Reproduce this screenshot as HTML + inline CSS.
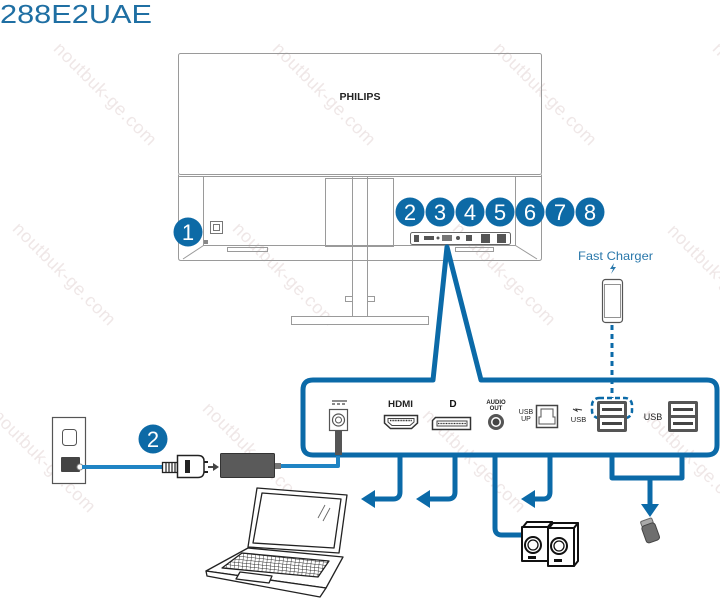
<!DOCTYPE html>
<html><head><meta charset="utf-8"><style>
html,body{margin:0;padding:0;background:#fff;}
svg{display:block;}
text{font-family:"Liberation Sans",sans-serif;}
</style></head><body>
<svg width="720" height="598" viewBox="0 0 720 598" xmlns="http://www.w3.org/2000/svg">
<defs>
<pattern id="kb" width="4" height="3.2" patternUnits="userSpaceOnUse" patternTransform="rotate(6)">
<rect width="4" height="3.2" fill="#fff"/><path d="M0 0H4M0 0V3.2" stroke="#222" stroke-width="0.9"/></pattern>
</defs>

<!-- watermarks -->
<g fill="#efe7e7" font-size="18" font-family="Liberation Sans,sans-serif">
<text transform="translate(101,98) rotate(45)" text-anchor="middle" textLength="137">noutbuk-ge.com</text>
<text transform="translate(320,98) rotate(45)" text-anchor="middle" textLength="137">noutbuk-ge.com</text>
<text transform="translate(541,98) rotate(45)" text-anchor="middle" textLength="137">noutbuk-ge.com</text>
<text transform="translate(760,98) rotate(45)" text-anchor="middle" textLength="137">noutbuk-ge.com</text>
<text transform="translate(60,278) rotate(45)" text-anchor="middle" textLength="137">noutbuk-ge.com</text>
<text transform="translate(280,278) rotate(45)" text-anchor="middle" textLength="137">noutbuk-ge.com</text>
<text transform="translate(500,278) rotate(45)" text-anchor="middle" textLength="137">noutbuk-ge.com</text>
<text transform="translate(715,280) rotate(45)" text-anchor="middle" textLength="137">noutbuk-ge.com</text>
<text transform="translate(40,465) rotate(45)" text-anchor="middle" textLength="137">noutbuk-ge.com</text>
<text transform="translate(250,458) rotate(45)" text-anchor="middle" textLength="137">noutbuk-ge.com</text>
<text transform="translate(470,465) rotate(45)" text-anchor="middle" textLength="137">noutbuk-ge.com</text>
<text transform="translate(690,465) rotate(45)" text-anchor="middle" textLength="137">noutbuk-ge.com</text>
</g>

<!-- title -->
<text x="0" y="23" font-size="26" fill="#1f6fa3" textLength="152" lengthAdjust="spacingAndGlyphs">288E2UAE</text>

<!-- monitor -->
<g fill="none" stroke="#9a9a9a" stroke-width="1">
<rect x="178.5" y="53.5" width="363" height="121" rx="2"/>
<path d="M178.5 174.5 V258 Q178.5 260.5 181 260.5 H539 Q541.5 260.5 541.5 258 V174.5"/>
<path d="M178.5 176.5 H541.5"/>
<path d="M203.5 176 V245.5 H515.5 V176"/>
<path d="M203.5 245.5 L183 259 M515.5 245.5 L537 259"/>
<rect x="325.5" y="178.5" width="68" height="68"/>
<rect x="227.5" y="247.5" width="40" height="4"/>
<rect x="455.5" y="247.5" width="38" height="4"/>
<path d="M352.5 176 V316 M367.5 176 V316"/>
<rect x="345.5" y="296.5" width="7" height="5"/><rect x="367.5" y="296.5" width="7" height="5"/>
<rect x="291.5" y="316.5" width="137" height="8" fill="#fff"/>
<rect x="210.5" y="221.5" width="12" height="12" stroke="#777"/>
<rect x="213.5" y="224.5" width="6" height="6" stroke="#777"/>
</g>
<path d="M204 240 h4 v4 h-4z" fill="#888"/>
<text x="360" y="100" font-size="10" font-weight="bold" fill="#222" text-anchor="middle" textLength="41" lengthAdjust="spacingAndGlyphs">PHILIPS</text>

<!-- monitor port strip -->
<rect x="410.5" y="232.5" width="100" height="12" rx="2" fill="#fff" stroke="#666"/>
<g fill="#555">
<rect x="414" y="235" width="5" height="7"/>
<rect x="424" y="236" width="10" height="4"/>
<circle cx="438" cy="238" r="1.5"/>
<rect x="442" y="235" width="10" height="6" fill="#777"/>
<circle cx="458" cy="238" r="2"/>
<rect x="466" y="235" width="6" height="6"/>
<rect x="481" y="234" width="9" height="9"/>
<rect x="497" y="234" width="9" height="9"/>
</g>

<!-- badges -->
<g fill="#0d6aa6">
<circle cx="188" cy="232" r="14.5"/>
<circle cx="410" cy="212" r="14.5"/><circle cx="440" cy="212" r="14.5"/><circle cx="470" cy="212" r="14.5"/>
<circle cx="500" cy="212" r="14.5"/><circle cx="530" cy="212" r="14.5"/><circle cx="560" cy="212" r="14.5"/>
<circle cx="590" cy="212" r="14.5"/>
<circle cx="153" cy="439" r="14.5"/>
</g>
<g fill="#fff" font-size="22" text-anchor="middle">
<text x="188" y="240">1</text>
<text x="410" y="220">2</text><text x="440" y="220">3</text><text x="470" y="220">4</text>
<text x="500" y="220">5</text><text x="530" y="220">6</text><text x="560" y="220">7</text>
<text x="590" y="220">8</text>
<text x="153" y="447">2</text>
</g>

<!-- panel with V connector -->
<path d="M433 380 H313 Q303 380 303 390 V445 Q303 455 313 455 H707 Q717 455 717 445 V390 Q717 380 707 380 H481 L447 247 L433 380 Z" fill="none" stroke="#0b6aa8" stroke-width="5" stroke-linejoin="round"/>

<!-- branches -->
<g fill="none" stroke="#0b6aa8" stroke-width="5" stroke-linejoin="round">
<path d="M400 455 V492 Q400 499 393 499 H372"/>
<path d="M455 455 V492 Q455 499 448 499 H427"/>
<path d="M495 455 V528 Q495 535 502 535 H522"/>
<path d="M550 455 V492 Q550 499 543 499 H532"/>
<path d="M612 455 V478 H682 V455"/>
<path d="M650 478 V506"/>
</g>
<g fill="#0b6aa8">
<polygon points="361,499 375,490 375,508"/>
<polygon points="416,499 430,490 430,508"/>
<polygon points="521,499 535,490 535,508"/>
<polygon points="641,504 659,504 650,517"/>
</g>

<!-- fast charger -->
<text x="578" y="260" font-size="12" fill="#2a78ab" textLength="75" lengthAdjust="spacingAndGlyphs">Fast Charger</text>
<polygon points="614,263 610,269 613,269 611,274 616,267 613,267" fill="#2a78ab"/>
<rect x="602.5" y="279.5" width="20" height="43" rx="3" fill="#fff" stroke="#555" stroke-width="1.2"/>
<rect x="604.5" y="284.5" width="16" height="33" fill="none" stroke="#777" stroke-width="0.8"/>
<path d="M612 325 V398" stroke="#0b6aa8" stroke-width="3" stroke-dasharray="5 4"/>
<rect x="592" y="398" width="40" height="20" rx="7" fill="none" stroke="#0b6aa8" stroke-width="2.5" stroke-dasharray="5 3"/>

<!-- DC -->
<path d="M332 401 H347" stroke="#444" stroke-width="1.2"/>
<path d="M332 404 H347" stroke="#444" stroke-width="1.2" stroke-dasharray="3 2"/>
<rect x="329.5" y="409.5" width="18" height="21" fill="#fff" stroke="#555" stroke-width="1.2"/>
<circle cx="338.5" cy="420" r="6" fill="none" stroke="#555" stroke-width="1.2"/>
<circle cx="338.5" cy="420" r="3" fill="none" stroke="#555" stroke-width="1"/>
<rect x="335" y="431" width="7" height="24" fill="#555"/>

<!-- HDMI -->
<text x="400.5" y="407" font-size="9" font-weight="bold" fill="#222" text-anchor="middle" textLength="25" lengthAdjust="spacingAndGlyphs">HDMI</text>
<polygon points="384.5,415.5 417.5,415.5 417.5,423 411.5,428.5 390.5,428.5 384.5,423" fill="#fff" stroke="#333" stroke-width="1.5"/>
<polygon points="388,418.5 414,418.5 414,422 410,425.5 392,425.5 388,422" fill="#fff" stroke="#444" stroke-width="1"/>
<path d="M390 420.5 H412" stroke="#333" stroke-width="1.5" stroke-dasharray="1 0.6"/>

<!-- DP -->
<text x="453" y="407" font-size="10" font-weight="bold" fill="#111" text-anchor="middle">D</text>
<polygon points="435.5,417.5 470.5,417.5 470.5,429.5 432.5,429.5 432.5,420.5" fill="#fff" stroke="#333" stroke-width="1.5"/>
<rect x="437" y="421" width="30" height="5" fill="#fff" stroke="#444" stroke-width="1"/>
<path d="M438 423.5 H466" stroke="#333" stroke-width="1.3" stroke-dasharray="1 0.6"/>

<!-- audio -->
<text x="496" y="404" font-size="6" font-weight="bold" fill="#222" text-anchor="middle">AUDIO</text>
<text x="496" y="410" font-size="6" font-weight="bold" fill="#222" text-anchor="middle">OUT</text>
<circle cx="496" cy="422" r="8" fill="#555"/>
<circle cx="496" cy="422" r="5" fill="#fff"/>
<circle cx="496" cy="422" r="3.5" fill="#444"/>

<!-- USB UP -->
<text x="526" y="414" font-size="7" fill="#222" text-anchor="middle">USB</text>
<text x="526" y="421" font-size="7" fill="#222" text-anchor="middle">UP</text>
<rect x="536.5" y="405.5" width="21" height="22" fill="#fff" stroke="#444" stroke-width="1.5"/>
<path d="M541 409 h12 v8 h2 v7 h-16 v-7 h2 z" fill="none" stroke="#555" stroke-width="1"/>

<!-- USB fast -->
<path d="M573 409 L577 411 L576 409 L582 410" fill="none" stroke="#333" stroke-width="1"/>
<text x="578.5" y="422" font-size="7.5" fill="#222" text-anchor="middle">USB</text>
<rect x="597" y="401" width="30" height="31" rx="2" fill="#555"/>
<rect x="600" y="404" width="24" height="11" fill="#fff"/>
<rect x="600" y="418" width="24" height="11" fill="#fff"/>
<rect x="602" y="408" width="20" height="3" fill="#444"/>
<rect x="602" y="422" width="20" height="3" fill="#444"/>

<!-- USB right -->
<text x="653" y="420" font-size="9" fill="#222" text-anchor="middle">USB</text>
<rect x="668" y="401" width="30" height="31" rx="2" fill="#555"/>
<rect x="671" y="404" width="24" height="11" fill="#fff"/>
<rect x="671" y="418" width="24" height="11" fill="#fff"/>
<rect x="673" y="408" width="20" height="3" fill="#444"/>
<rect x="673" y="422" width="20" height="3" fill="#444"/>

<!-- wall outlet -->
<rect x="52.5" y="417.5" width="33" height="66" fill="#fff" stroke="#555" stroke-width="1.2"/>
<rect x="62.5" y="429.5" width="14" height="16" rx="3" fill="#fff" stroke="#555" stroke-width="1"/>
<rect x="61" y="457" width="19" height="15" rx="1" fill="#444"/>
<circle cx="80" cy="467" r="3" fill="#fff" stroke="#888"/>

<!-- power cords -->
<path d="M82 467 H163" stroke="#1f84c4" stroke-width="4" fill="none"/>
<path d="M275 466 H338 V456" stroke="#1f84c4" stroke-width="4" fill="none" stroke-linejoin="round"/>

<!-- plug -->
<rect x="162.5" y="462.5" width="15" height="10" fill="#fff" stroke="#222" stroke-width="1.3"/>
<path d="M166 463 V472 M169 463 V472 M172 463 V472 M175 463 V472" stroke="#222" stroke-width="1.2"/>
<path d="M177.5 455.5 H198 Q204 455.5 204 461 V471 Q204 477.5 198 477.5 H177.5 Z" fill="#fff" stroke="#222" stroke-width="1.5"/>
<rect x="185" y="460" width="5" height="13" fill="#222"/>
<path d="M204 462 H208 M204 472 H208" stroke="#222" stroke-width="2"/>
<path d="M208 467 H214" stroke="#444" stroke-width="2"/>
<polygon points="213,463 219,467 213,471" fill="#444"/>

<!-- adapter -->
<rect x="220.5" y="453.5" width="54" height="24" rx="1" fill="#5a5a5a" stroke="#333"/>
<rect x="275" y="463" width="6" height="6" fill="#777"/>

<!-- laptop -->
<g stroke="#222" stroke-width="1.3" stroke-linejoin="round" fill="#fff">
<polygon points="206,571 248,548 343,557 326,588"/>
<polygon points="206,571 326,588 320,597 207,576"/>
<polygon points="257,488 347,495 339,553 248,547"/>
<polygon points="262,493 341,499 334,548 253,543"/>
<polygon points="242,553 329,561 318,577 222,568" fill="url(#kb)"/>
<polygon points="240,572 272,576 269,583 236,579"/>
</g>
<path d="M325 505 L318 518 M330 508 L323 521" stroke="#666" stroke-width="0.9"/>

<!-- speakers -->
<g stroke="#111" stroke-width="2" fill="#fff" stroke-linejoin="round">
<polygon points="523,527 527,522 552,522 548,527"/>
<rect x="522" y="527" width="26" height="34"/>
<polygon points="548,527 552,522 552,556 548,561"/>
<polygon points="549,528 553,523 578,523 574,528"/>
<rect x="548" y="528" width="26" height="38"/>
<polygon points="574,528 578,523 578,561 574,566"/>
<circle cx="533" cy="545" r="8"/>
<circle cx="533" cy="545" r="5" stroke-width="1.3"/>
<circle cx="559" cy="546" r="8"/>
<circle cx="559" cy="546" r="5" stroke-width="1.3"/>
</g>
<rect x="528" y="556" width="8" height="3" fill="#111"/>
<rect x="554" y="559" width="8" height="3" fill="#111"/>

<!-- flash drive -->
<g transform="translate(650,531) rotate(-20)">
<rect x="-6" y="-12" width="12" height="6" rx="1.5" fill="#aaa" stroke="#666"/>
<rect x="-7" y="-7" width="14" height="18" rx="3" fill="#6e6e6e" stroke="#444"/>
</g>
</svg>
</body></html>
